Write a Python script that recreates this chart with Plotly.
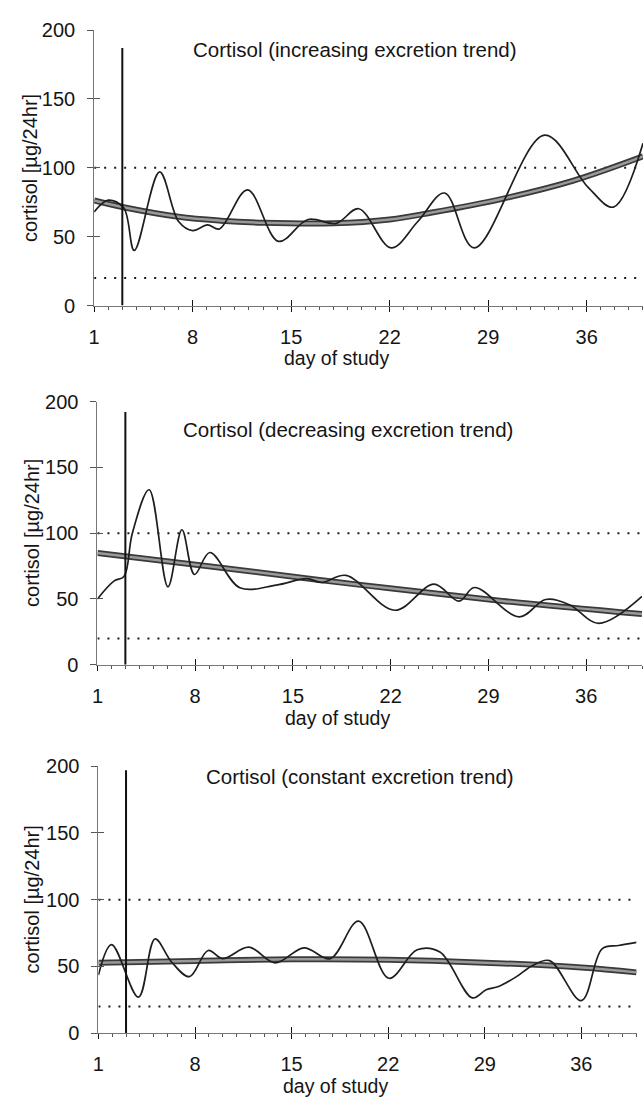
import plotly.graph_objects as go

# ---------------- data ----------------
DAYS_INC = [1, 2, 3.1, 3.85, 5.65, 7, 8, 9.05, 9.9, 11.9, 14.1, 16.2, 18.2, 19.8, 22.1, 24, 25.9, 28, 33, 36.1, 37.9, 40]
CORT_INC = [68, 76.5, 71, 40, 97, 61, 54.4, 58.5, 55.6, 84, 46.6, 62.5, 59.7, 70.3, 41.9, 61, 81.7, 41.9, 123.7, 85.8, 71.5, 117.8]
TREND_INC_DAYS = [1, 3, 7, 10, 13, 18, 22, 25, 30, 35, 40]
TREND_INC = [76.3, 71.5, 64.4, 61.6, 60.1, 59.7, 62.5, 67.5, 77.5, 90.5, 108.3]

DAYS_DEC = [1, 2.2, 2.9, 3.5, 4.7, 6.05, 7.05, 7.95, 9.05, 11.2, 13.8, 16, 17.05, 18.8, 22.3, 25.1, 26.9, 28, 31.2, 33.1, 34.8, 36.9, 40]
CORT_DEC = [50, 63.7, 67, 100, 133, 59.2, 102.6, 68.6, 85.3, 58.5, 60.5, 65.4, 62.5, 67.9, 41.4, 61.2, 48.3, 58.7, 36.4, 49.6, 45.6, 31.5, 52]
TREND_DEC_DAYS = [1, 10, 20, 30, 40]
TREND_DEC = [85, 73.5, 60.5, 48.5, 38.5]

DAYS_CON = [1, 1.95, 3.9, 5.1, 6.3, 7.6, 8.95, 10, 11.9, 13.8, 15.9, 17.8, 19.85, 22.05, 24.1, 25.75, 28.1, 29.1, 30, 31.3, 32.5, 33.7, 36, 37.5, 38.7, 40]
CORT_CON = [43.6, 66.4, 27, 70.6, 53.4, 42.4, 62, 55.9, 64.5, 52.7, 64, 55.9, 84, 41.2, 62.5, 60.8, 26.5, 32.6, 35, 42.4, 51, 54.4, 24.5, 63.2, 65.7, 68.1]
TREND_CON_DAYS = [1, 8, 15, 22, 29, 36, 40]
TREND_CON = [52.9, 54.2, 55.4, 55.1, 52.9, 49.3, 45.6]

REF_HIGH = 100
REF_LOW = 20
VLINE_DAY = 3
VLINE_TOP = [187, 192, 197]
X_RANGE = [1, 40]
Y_RANGE = [0, 200]
X_TICKS = [1, 8, 15, 22, 29, 36]
Y_TICKS = [0, 50, 100, 150, 200]
TITLES = ["Cortisol (increasing excretion trend)",
          "Cortisol (decreasing excretion trend)",
          "Cortisol (constant excretion trend)"]
X_LABEL = "day of study"
Y_LABEL = "cortisol [µg/24hr]"

# ---------------- layout geometry (pixels) ----------------
W, H = 643, 1107
# (x_left, x_right, y_top(200), y_bottom(0))
PANELS = [(89, 643, 19.5, 300.5), (92.3, 642, 398.5, 667), (93.3, 636.5, 770.5, 1043)]
TITLE_POS = [(352.7, 39), (344.8, 427), (357, 781)]
YLAB_X = [24.5, 26, 26]

FONT = "Liberation Sans, Arial, sans-serif"
INK = "#151515"
AXC = "#777777"

series = [
    (DAYS_INC, CORT_INC, TREND_INC_DAYS, TREND_INC),
    (DAYS_DEC, CORT_DEC, TREND_DEC_DAYS, TREND_DEC),
    (DAYS_CON, CORT_CON, TREND_CON_DAYS, TREND_CON),
]

fig = go.Figure()
layout = dict(width=W, height=H, margin=dict(l=0, r=0, t=0, b=0),
              paper_bgcolor="white", plot_bgcolor="white", showlegend=False,
              font=dict(family=FONT, color=INK, size=20))
annotations = []

for i, ((xl, xr, yt, yb), (d, c, td, tv)) in enumerate(zip(PANELS, series)):
    n = i + 1
    xa = "x" if n == 1 else f"x{n}"
    ya = "y" if n == 1 else f"y{n}"
    on = n + 3
    xo, yo = f"x{on}", f"y{on}"
    xdom = [xl / W, xr / W]
    ydom = [1 - yb / H, 1 - yt / H]

    layout[f"xaxis{'' if n == 1 else n}"] = dict(
        domain=xdom, range=X_RANGE, anchor=ya, tickmode="array", tickvals=X_TICKS,
        ticks="outside", ticklen=5, tickcolor=INK, tickwidth=1,
        showline=True, linecolor=AXC, linewidth=1, showgrid=False, zeroline=False,
        tickfont=dict(size=20, family=FONT, color=INK), ticklabelstandoff=8,
        minor=dict(tickmode="linear", tick0=1, dtick=1, ticks="outside", ticklen=3,
                   tickcolor="#555555", tickwidth=1, showgrid=False))
    layout[f"yaxis{'' if n == 1 else n}"] = dict(
        domain=ydom, range=Y_RANGE, anchor=xa, tickmode="array", tickvals=Y_TICKS,
        ticks="outside", ticklen=6, tickcolor="#555555", tickwidth=1,
        showline=True, linecolor=AXC, linewidth=1, showgrid=False, zeroline=False,
        tickfont=dict(size=20, family=FONT, color=INK), ticklabelstandoff=8)
    # overlay axes give the crossing (inside) part of the major ticks
    layout[f"xaxis{on}"] = dict(
        overlaying=xa, range=X_RANGE, anchor=yo, tickmode="array", tickvals=X_TICKS,
        ticks="inside", ticklen=6, tickcolor=INK, tickwidth=1, showticklabels=False,
        showline=False, showgrid=False, zeroline=False)
    layout[f"yaxis{on}"] = dict(
        overlaying=ya, range=Y_RANGE, anchor=xo, tickmode="array", tickvals=Y_TICKS,
        ticks="inside", ticklen=6, tickcolor="#555555", tickwidth=1, showticklabels=False,
        showline=False, showgrid=False, zeroline=False)

    # reference (dotted) levels
    for ref in (REF_HIGH, REF_LOW):
        fig.add_trace(go.Scatter(x=X_RANGE, y=[ref, ref], mode="lines", xaxis=xa, yaxis=ya,
                                 line=dict(color="#1a1a1a", width=2, dash="2px,8px"),
                                 hoverinfo="skip"))
    # trend line (thick grey band)
    fig.add_trace(go.Scatter(x=td, y=tv, mode="lines", xaxis=xa, yaxis=ya,
                             line=dict(color="#3a3a3a", width=6, shape="spline", smoothing=1)))
    fig.add_trace(go.Scatter(x=td, y=tv, mode="lines", xaxis=xa, yaxis=ya,
                             line=dict(color="#9a9a9a", width=2.5, shape="spline", smoothing=1)))
    # measured excretion curve
    fig.add_trace(go.Scatter(x=d, y=c, mode="lines", xaxis=xa, yaxis=ya,
                             line=dict(color="#1e1e1e", width=1.7, shape="spline", smoothing=1)))
    # vertical marker line
    fig.add_trace(go.Scatter(x=[VLINE_DAY, VLINE_DAY], y=[Y_RANGE[0], VLINE_TOP[i]], mode="lines",
                             xaxis=xo, yaxis=yo, line=dict(color="#111111", width=2)))

    tx, ty = TITLE_POS[i]
    annotations.append(dict(text=TITLES[i], x=tx / W, y=1 - ty / H, xref="paper", yref="paper",
                            xanchor="center", yanchor="middle", showarrow=False,
                            font=dict(size=20.5, family=FONT, color=INK)))
    annotations.append(dict(text=Y_LABEL, x=YLAB_X[i] / W, y=1 - (yt + yb) / 2 / H,
                            xref="paper", yref="paper", textangle=-90,
                            xanchor="center", yanchor="middle", showarrow=False,
                            font=dict(size=20, family=FONT, color=INK)))
    annotations.append(dict(text=X_LABEL, x=(xl + 0.441 * (xr - xl)) / W, y=1 - (yb + 54) / H,
                            xref="paper", yref="paper", xanchor="center", yanchor="middle",
                            showarrow=False, font=dict(size=19.5, family=FONT, color=INK)))

layout["annotations"] = annotations
fig.update_layout(**layout)
fig.write_html("out.html")
